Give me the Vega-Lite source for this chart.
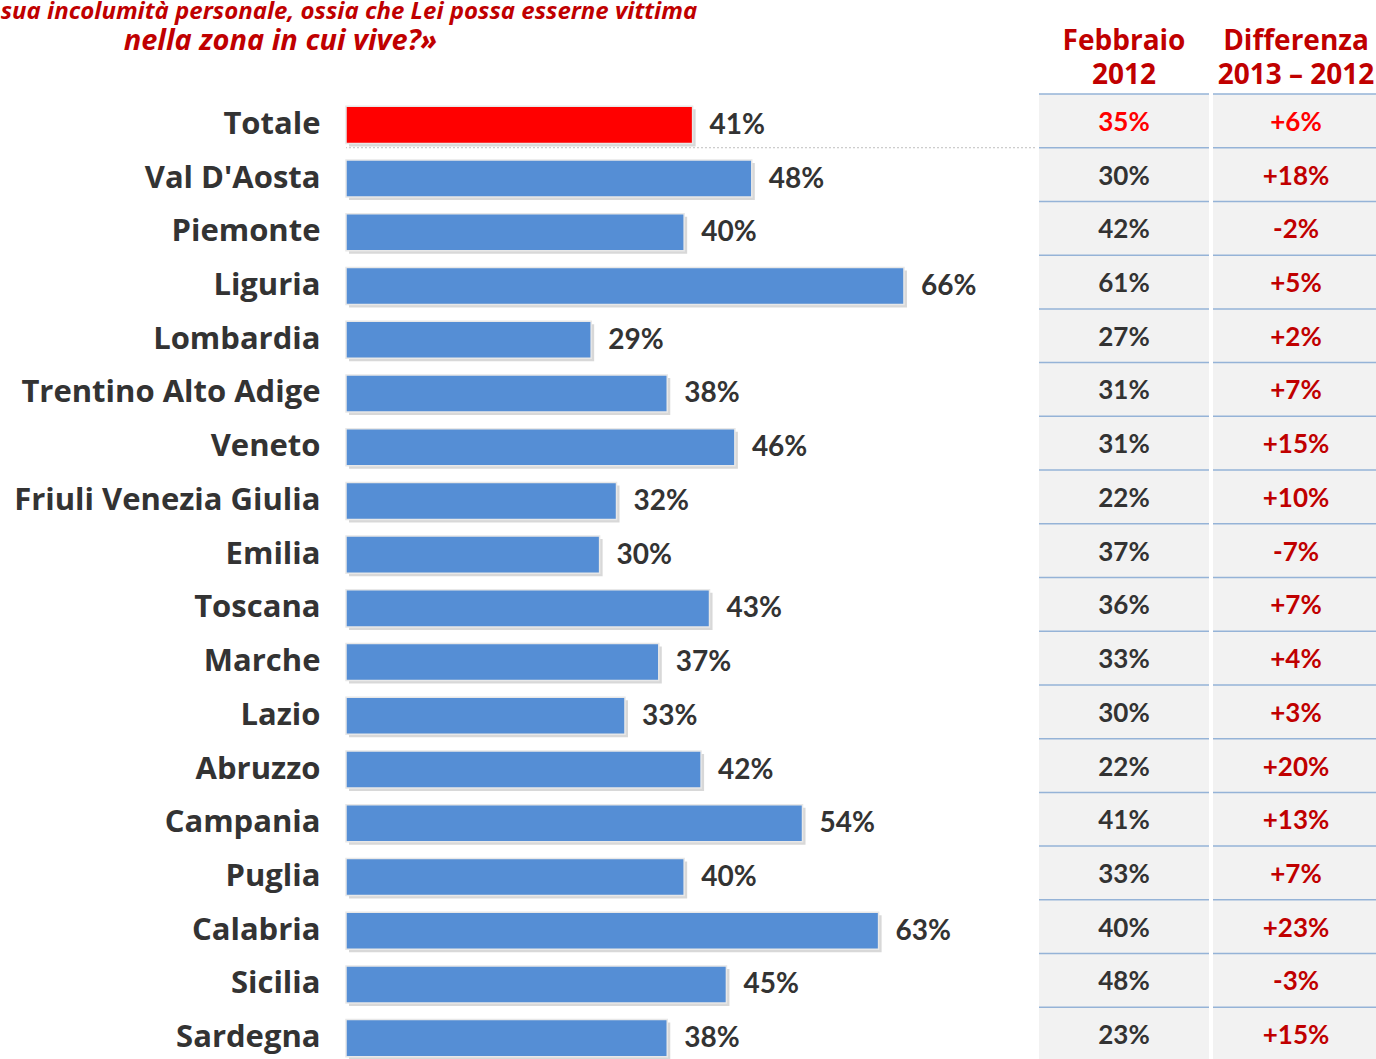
{
  "$schema": "https://vega.github.io/schema/vega-lite/v6.json",
  "background": "#ffffff",
  "padding": {"left": 0, "top": 0, "right": 0, "bottom": 0},
  "autosize": {"type": "pad"},
  "title": {
    "text": "sua incolumità personale, ossia che Lei possa esserne vittima",
    "anchor": "start",
    "dx": -13,
    "offset": 3,
    "font": "Open Sans",
    "fontSize": 24,
    "fontStyle": "italic",
    "fontWeight": "bold",
    "color": "#C00000"
  },
  "data": {
    "values": [
      {"region": "Totale", "v2013": 0.41, "v2012": 0.35, "diff": "+6%"},
      {"region": "Val D'Aosta", "v2013": 0.48, "v2012": 0.30, "diff": "+18%"},
      {"region": "Piemonte", "v2013": 0.40, "v2012": 0.42, "diff": "-2%"},
      {"region": "Liguria", "v2013": 0.66, "v2012": 0.61, "diff": "+5%"},
      {"region": "Lombardia", "v2013": 0.29, "v2012": 0.27, "diff": "+2%"},
      {"region": "Trentino Alto Adige", "v2013": 0.38, "v2012": 0.31, "diff": "+7%"},
      {"region": "Veneto", "v2013": 0.46, "v2012": 0.31, "diff": "+15%"},
      {"region": "Friuli Venezia Giulia", "v2013": 0.32, "v2012": 0.22, "diff": "+10%"},
      {"region": "Emilia", "v2013": 0.30, "v2012": 0.37, "diff": "-7%"},
      {"region": "Toscana", "v2013": 0.43, "v2012": 0.36, "diff": "+7%"},
      {"region": "Marche", "v2013": 0.37, "v2012": 0.33, "diff": "+4%"},
      {"region": "Lazio", "v2013": 0.33, "v2012": 0.30, "diff": "+3%"},
      {"region": "Abruzzo", "v2013": 0.42, "v2012": 0.22, "diff": "+20%"},
      {"region": "Campania", "v2013": 0.54, "v2012": 0.41, "diff": "+13%"},
      {"region": "Puglia", "v2013": 0.40, "v2012": 0.33, "diff": "+7%"},
      {"region": "Calabria", "v2013": 0.63, "v2012": 0.40, "diff": "+23%"},
      {"region": "Sicilia", "v2013": 0.45, "v2012": 0.48, "diff": "-3%"},
      {"region": "Sardegna", "v2013": 0.38, "v2012": 0.23, "diff": "+15%"}
    ]
  },
  "spacing": 2,
  "hconcat": [
    {
      "width": 689,
      "height": 967,
      "title": {
        "text": "nella zona in cui vive?»",
        "anchor": "start",
        "frame": "bounds",
        "dx": 110,
        "offset": 38,
        "font": "Open Sans",
        "fontSize": 29,
        "fontStyle": "italic",
        "fontWeight": "bold",
        "color": "#C00000"
      },
      "encoding": {
        "y": {
          "field": "region",
          "type": "nominal",
          "sort": null,
          "scale": {"paddingInner": 0, "paddingOuter": 0},
          "axis": {
            "title": null,
            "domain": false,
            "ticks": false,
            "labelPadding": 26,
            "labelOffset": 4,
            "labelFont": "Open Sans",
            "labelFontSize": 31,
            "labelFontWeight": "bold",
            "labelColor": "#333333",
            "labelLimit": 500
          }
        }
      },
      "layer": [
        {
          "mark": {"type": "bar", "height": {"band": 0.69}, "color": "#7F7F7F", "opacity": 0.3, "xOffset": 3, "yOffset": 7},
          "encoding": {
            "x": {"field": "v2013", "type": "quantitative", "scale": {"domain": [0, 0.815]}, "axis": null}
          }
        },
        {
          "mark": {"type": "bar", "height": {"band": 0.69}, "stroke": "#E8E8E8", "strokeWidth": 1.5, "yOffset": 4},
          "encoding": {
            "x": {"field": "v2013", "type": "quantitative", "scale": {"domain": [0, 0.815]}, "axis": null},
            "color": {
              "condition": {"test": "datum.region === 'Totale'", "value": "#FF0000"},
              "value": "#558ED5"
            }
          }
        },
        {
          "mark": {"type": "text", "align": "left", "baseline": "middle", "dx": 17, "yOffset": 5, "font": "Lato", "fontSize": 28, "fontWeight": "bold", "color": "#333333"},
          "encoding": {
            "x": {"field": "v2013", "type": "quantitative", "scale": {"domain": [0, 0.815]}, "axis": null},
            "text": {"field": "v2013", "type": "quantitative", "format": ".0%"}
          }
        },
        {
          "transform": [{"filter": "datum.region === \"Val D'Aosta\""}],
          "mark": {"type": "rule", "color": "#BFBFBF", "strokeWidth": 1, "strokeDash": [2, 2]},
          "encoding": {
            "y": {"field": "region", "type": "nominal", "sort": null, "bandPosition": 0}
          }
        }
      ]
    },
    {
      "width": 170,
      "height": 967,
      "view": {"fill": "#F2F2F2", "stroke": null},
      "title": {
        "text": ["Febbraio", "2012"],
        "anchor": "middle",
        "offset": 3,
        "lineHeight": 34,
        "font": "Open Sans",
        "fontSize": 28,
        "fontWeight": "bold",
        "color": "#C00000"
      },
      "encoding": {
        "y": {"field": "region", "type": "nominal", "sort": null, "scale": {"paddingInner": 0, "paddingOuter": 0}, "axis": null}
      },
      "layer": [
        {
          "mark": {"type": "rule", "color": "#95B3D7", "strokeWidth": 1.5},
          "encoding": {
            "y": {"field": "region", "type": "nominal", "sort": null, "bandPosition": 0, "axis": null}
          }
        },
        {
          "mark": {"type": "text", "baseline": "middle", "yOffset": 2, "font": "Lato", "fontSize": 26, "fontWeight": "bold"},
          "encoding": {
            "text": {"field": "v2012", "type": "quantitative", "format": ".0%"},
            "color": {
              "condition": {"test": "datum.region === 'Totale'", "value": "#FF0000"},
              "value": "#333333"
            }
          }
        }
      ]
    },
    {
      "width": 166,
      "height": 967,
      "view": {"fill": "#F2F2F2", "stroke": null},
      "title": {
        "text": ["Differenza", "2013 – 2012"],
        "anchor": "middle",
        "offset": 3,
        "lineHeight": 34,
        "font": "Open Sans",
        "fontSize": 28,
        "fontWeight": "bold",
        "color": "#C00000"
      },
      "encoding": {
        "y": {"field": "region", "type": "nominal", "sort": null, "scale": {"paddingInner": 0, "paddingOuter": 0}, "axis": null}
      },
      "layer": [
        {
          "mark": {"type": "rule", "color": "#95B3D7", "strokeWidth": 1.5},
          "encoding": {
            "y": {"field": "region", "type": "nominal", "sort": null, "bandPosition": 0, "axis": null}
          }
        },
        {
          "mark": {"type": "text", "baseline": "middle", "yOffset": 2, "font": "Lato", "fontSize": 26, "fontWeight": "bold"},
          "encoding": {
            "text": {"field": "diff", "type": "nominal"},
            "color": {
              "condition": {"test": "datum.region === 'Totale'", "value": "#FF0000"},
              "value": "#C00000"
            }
          }
        }
      ]
    }
  ],
  "config": {
    "view": {"stroke": null},
    "font": "Lato"
  }
}
